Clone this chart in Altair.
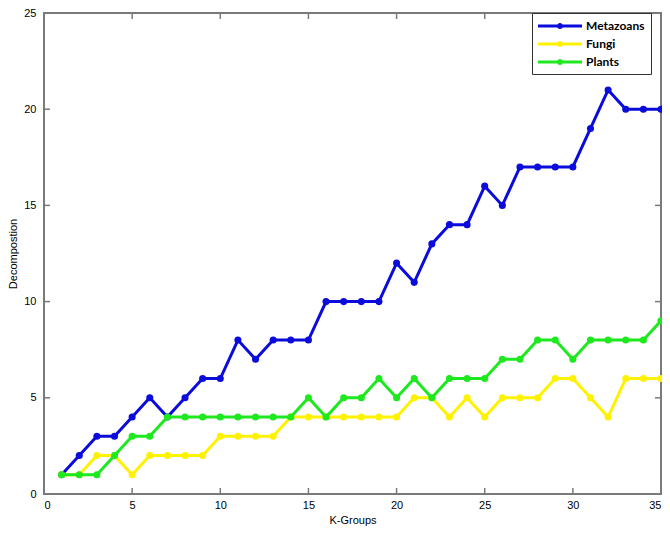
import altair as alt
import pandas as pd

k_groups = list(range(1, 36))
metazoans = [1, 2, 3, 3, 4, 5, 4, 5, 6, 6, 8, 7, 8, 8, 8, 10, 10, 10, 10, 12,
             11, 13, 14, 14, 16, 15, 17, 17, 17, 17, 19, 21, 20, 20, 20]
fungi = [1, 1, 2, 2, 1, 2, 2, 2, 2, 3, 3, 3, 3, 4, 4, 4, 4, 4, 4, 4,
         5, 5, 4, 5, 4, 5, 5, 5, 6, 6, 5, 4, 6, 6, 6]
plants = [1, 1, 1, 2, 3, 3, 4, 4, 4, 4, 4, 4, 4, 4, 5, 4, 5, 5, 6, 5,
          6, 5, 6, 6, 6, 7, 7, 8, 8, 7, 8, 8, 8, 8, 9]
series_names = ["Metazoans", "Fungi", "Plants"]
series_colors = ["#0b0bdc", "#fff200", "#1ee81e"]
x_ticks = [0, 5, 10, 15, 20, 25, 30, 35]
y_ticks = [0, 5, 10, 15, 20, 25]

rows = []
for name, vals in zip(series_names, [metazoans, fungi, plants]):
    for k, v in zip(k_groups, vals):
        rows.append({"K": k, "value": v, "series": name})
df = pd.DataFrame(rows)

W, H = 617, 481
FONT = "Liberation Sans"
BOX = "#7a7a7a"

xs = alt.Scale(domain=[0, 35], nice=False, zero=False)
ys = alt.Scale(domain=[0, 25], nice=False, zero=False)

x_axis = alt.Axis(values=x_ticks, ticks=False, tickSize=0, domain=False, grid=False,
                  labelFont=FONT, labelFontSize=11, labelColor="black", labelPadding=5,
                  title="K-Groups", titleFont=FONT, titleFontSize=11,
                  titleFontWeight="normal", titleColor="black", titlePadding=4)
y_axis = alt.Axis(values=y_ticks, ticks=False, tickSize=0, domain=False, grid=False,
                  labelFont=FONT, labelFontSize=11, labelColor="black", labelPadding=8,
                  title="Decompostion", titleFont=FONT, titleFontSize=11,
                  titleFontWeight="normal", titleColor="black", titlePadding=5)

# legend symbol: line with a dot (unit = sqrt(size)/2 = 7px)
sym_path = ("M-1,-0.21H5.29V0.21H-1Z "
            "M2.57,0A0.43,0.43,0,1,1,1.71,0A0.43,0.43,0,1,1,2.57,0Z")

legend = alt.Legend(title=None, orient="none", legendX=488, legendY=0,
                    symbolType=sym_path, symbolSize=196, symbolStrokeWidth=0,
                    labelFont="Lato", labelFontWeight="bold", labelFontSize=12,
                    labelColor="black", labelOffset=34, rowPadding=5, padding=6,
                    strokeColor="#333333", fillColor="white")

color_scale = alt.Scale(domain=series_names, range=series_colors)

layers = []
for name, col in zip(series_names, series_colors):
    base = alt.Chart(df).transform_filter(alt.datum.series == name)
    line = base.mark_line(strokeWidth=3, color=col).encode(
        x=alt.X("K:Q", scale=xs, axis=x_axis),
        y=alt.Y("value:Q", scale=ys, axis=y_axis),
    )
    pts = base.mark_point(filled=True, size=50, opacity=1).encode(
        x=alt.X("K:Q", scale=xs, axis=x_axis),
        y=alt.Y("value:Q", scale=ys, axis=y_axis),
        color=alt.Color("series:N", scale=color_scale, legend=legend),
    )
    layers += [line, pts]

xt = pd.DataFrame({"t": x_ticks[1:-1]})
yt = pd.DataFrame({"t": y_ticks[1:-1]})
tick_bottom = alt.Chart(xt).mark_rule(color=BOX, strokeWidth=1.5).encode(
    x=alt.X("t:Q", scale=xs, axis=x_axis), y=alt.value(H), y2=alt.value(H - 6))
tick_top = alt.Chart(xt).mark_rule(color=BOX, strokeWidth=1.5).encode(
    x=alt.X("t:Q", scale=xs, axis=x_axis), y=alt.value(0), y2=alt.value(6))
tick_left = alt.Chart(yt).mark_rule(color=BOX, strokeWidth=1.5).encode(
    y=alt.Y("t:Q", scale=ys, axis=y_axis), x=alt.value(0), x2=alt.value(6))
tick_right = alt.Chart(yt).mark_rule(color=BOX, strokeWidth=1.5).encode(
    y=alt.Y("t:Q", scale=ys, axis=y_axis), x=alt.value(W), x2=alt.value(W - 6))

chart = alt.layer(tick_bottom, tick_top, tick_left, tick_right, *layers).properties(
    width=W, height=H,
    autosize=alt.AutoSizeParams(type="none"),
    padding={"left": 36, "top": 5, "right": 1, "bottom": 33},
    background="white",
).configure_view(stroke=BOX, strokeWidth=2)

chart.save("out.html", embed_options={"renderer": "svg", "actions": False})
